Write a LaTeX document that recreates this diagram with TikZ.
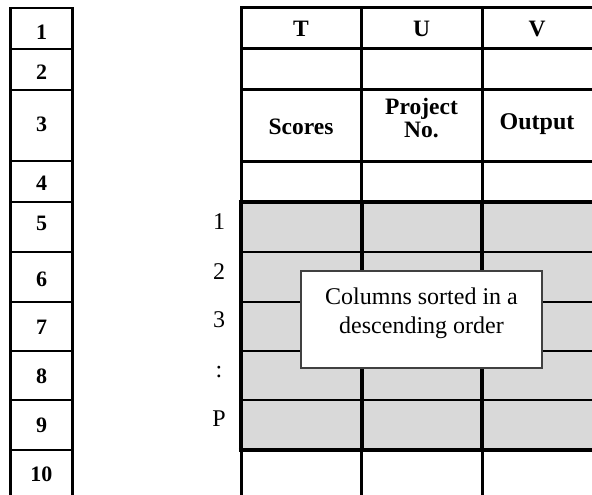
\documentclass[tikz,border=0pt]{standalone}
\usepackage{fontspec}
\setmainfont{Liberation Serif}
\definecolor{cellgray}{RGB}{217,217,217}
\definecolor{boxedge}{RGB}{64,64,64}
\tikzset{
  rowline/.style={line width=2.3pt, line cap=rect},
  gridline/.style={line width=3pt},
  thinrow/.style={line width=2pt},
  thickline/.style={line width=4.5pt},
  hdr/.style={font=\fontsize{23.5}{25}\selectfont\bfseries, inner sep=0pt, align=center},
  rownum/.style={font=\fontsize{22}{24}\selectfont\bfseries, inner sep=0pt},
  idx/.style={font=\fontsize{24}{26}\selectfont, inner sep=0pt},
  notebox/.style={draw=boxedge, fill=white, line width=1.5pt},
  notetext/.style={font=\fontsize{24}{29}\selectfont, align=center, inner sep=0pt}
}
\begin{document}
\begin{tikzpicture}[x=1pt, y=-1pt]
\useasboundingbox (0,0) rectangle (592,495);

% ---- shaded block of sorted rows ----
\fill[cellgray] (241,202) rectangle (600,450);

% ---- numbered row column on the left ----
\draw[rowline] (10.5,8) -- (10.5,500);
\draw[rowline] (72.5,8) -- (72.5,500);
\foreach \y in {8,49,90,161,202,252,302,351,400,450}
  \draw[rowline] (10.5,\y) -- (72.5,\y);

\foreach \n/\y in {1/32,2/72,3/124,4/183,5/223,6/279,7/327,8/376,9/425,10/474}
  \node[rownum] (r\n) at (41.5,\y) {\n};

% ---- sheet columns T, U, V ----
\foreach \y in {8,49,90,161}
  \draw[gridline] (241,\y) -- (600,\y);
\foreach \y in {252,302,351,400}
  \draw[thinrow] (241,\y) -- (600,\y);
\draw[gridline] (241,6.5) -- (241,500);
\draw[gridline] (361.5,6.5) -- (361.5,500);
\draw[gridline] (482,6.5) -- (482,500);
\draw[line width=4pt] (361.5,202) -- (361.5,450);
\draw[line width=4pt] (482,202) -- (482,450);
\draw[thickline] (241,199.75) -- (241,452.25);
\draw[thickline] (238.75,202) -- (600,202);
\draw[thickline] (238.75,450) -- (600,450);

% ---- column headers ----
\node[hdr] (hT) at (301,29) {T};
\node[hdr] (hU) at (421.5,29) {U};
\node[hdr] (hV) at (537,29) {V};
\node[hdr] (scores) at (301,127) {Scores};
\node[hdr, font=\fontsize{23.5}{22.5}\selectfont\bfseries] (proj) at (421.5,118) {Project\\No.};
\node[hdr, font=\fontsize{24}{26}\selectfont\bfseries] (out) at (537,124) {Output};

% ---- rank labels ----
\foreach \k/\t/\y in {a/1/222,b/2/272,c/3/320,d/:/372,e/P/419}
  \node[idx] (rank\k) at (219,\y) {\t};

% ---- note box ----
\draw[notebox] (301,271) rectangle (542,368);
\node[notetext] (note) at (421.5,313) {Columns sorted in a\\descending order};
\end{tikzpicture}
\end{document}
